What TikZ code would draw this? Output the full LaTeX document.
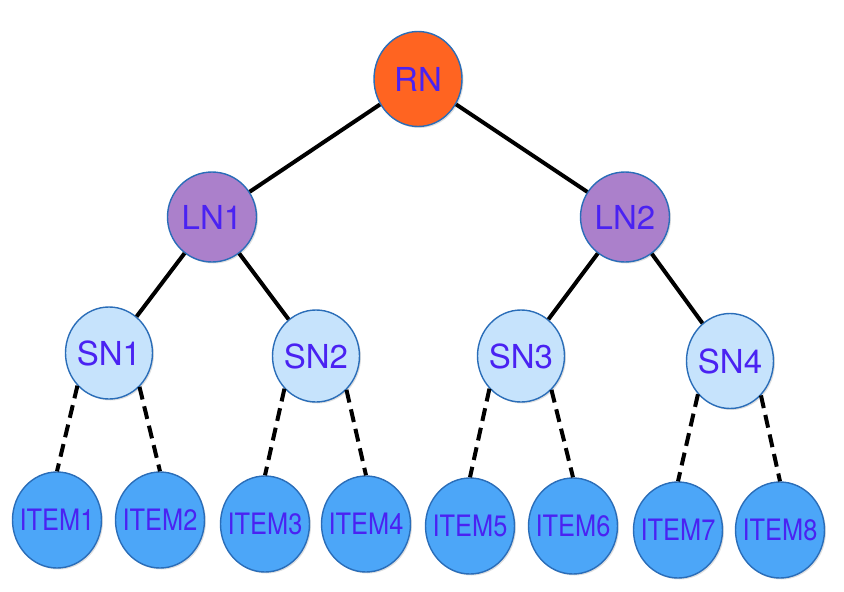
\documentclass[tikz,border=0pt]{standalone}
\usepackage{fontspec}
\setmainfont{TeX Gyre Heros}
\usepackage{graphicx}
\usepackage{tikz}
\usetikzlibrary{calc, positioning, shapes.geometric, shadows}
\definecolor{rootcol}{HTML}{FF6421}
\definecolor{levcol}{HTML}{AB80CB}
\definecolor{subcol}{HTML}{C6E3FC}
\definecolor{itemcol}{HTML}{4CA6F8}
\definecolor{rimcol}{HTML}{2A6DB8}
\definecolor{txtcol}{HTML}{4A22F2}
\tikzstyle{tnode}=[shape=ellipse, draw=rimcol, line width=1.4pt, inner sep=0pt, text=txtcol, font=\fontsize{33}{33}\selectfont, drop shadow={shadow xshift=1.5pt, shadow yshift=-1.5pt, opacity=0.25}]
\tikzstyle{rootn}=[tnode, fill=rootcol, minimum width=88pt, minimum height=95pt]
\tikzstyle{levn}=[tnode, fill=levcol, minimum width=89pt, minimum height=90pt]
\tikzstyle{subn}=[tnode, fill=subcol, minimum width=87pt, minimum height=92pt]
\tikzstyle{itemn}=[tnode, fill=itemcol, minimum width=89pt, minimum height=96pt, font=\fontsize{29.5}{29.5}\selectfont]
\tikzstyle{tie}=[line width=4pt, black]
\tikzstyle{dtie}=[line width=4pt, black, dash pattern=on 13pt off 7pt]
\newcommand{\lbl}[1]{\makebox[0pt]{#1}}
\newcommand{\itm}[1]{\makebox[0pt]{\scalebox{0.86}[1]{#1}}}

\begin{document}
\begin{tikzpicture}[x=1pt, y=-1pt]
\useasboundingbox (0,0) rectangle (844,592);
\node[rootn] (rn) at (418,79) {\lbl{RN}};
\node[levn] (ln1) at (212,217) {\lbl{LN1}};
\node[levn] (ln2) at (625,217) {\lbl{LN2}};
\node[subn] (sn1) at (109,353) {\lbl{SN1}};
\node[subn] (sn2) at (316,356) {\lbl{SN2}};
\node[subn] (sn3) at (521,356) {\lbl{SN3}};
\node[subn, minimum height=95pt] (sn4) at (730,361) {\lbl{SN4}};
\node[itemn] (it1) at (57,520) {\itm{ITEM1}};
\node[itemn] (it2) at (160,520) {\itm{ITEM2}};
\node[itemn] (it3) at (265,524) {\itm{ITEM3}};
\node[itemn] (it4) at (366,524) {\itm{ITEM4}};
\node[itemn] (it5) at (470,526) {\itm{ITEM5}};
\node[itemn] (it6) at (573,526) {\itm{ITEM6}};
\node[itemn] (it7) at (678,530) {\itm{ITEM7}};
\node[itemn] (it8) at (780,530) {\itm{ITEM8}};
%
\draw[tie] (rn) -- (ln1);
\draw[tie] (rn) -- (ln2);
\draw[tie] (ln1) -- (sn1);
\draw[tie] (ln1) -- (sn2);
\draw[tie] (ln2) -- (sn3);
\draw[tie] (ln2) -- (sn4);
%
\draw[dtie] (sn1.226) -- (it1.north);
\draw[dtie] (sn1.312) -- (it2.north);
\draw[dtie] (sn2.226) -- (it3.north);
\draw[dtie] (sn2.312) -- (it4.north);
\draw[dtie] (sn3.226) -- (it5.north);
\draw[dtie] (sn3.312) -- (it6.north);
\draw[dtie] (sn4.226) -- (it7.north);
\draw[dtie] (sn4.312) -- (it8.north);
\end{tikzpicture}
\end{document}
